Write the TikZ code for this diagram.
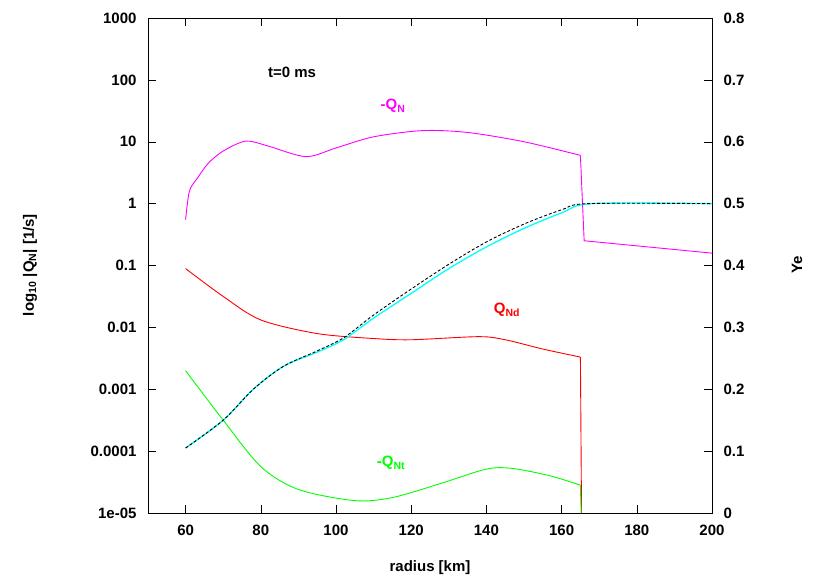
\documentclass[tikz,border=0pt]{standalone}
\usepackage{fontspec}
\setmainfont{Liberation Sans}
\usetikzlibrary{positioning}
\definecolor{qnmag}{RGB}{255,0,255}
\definecolor{qndred}{RGB}{255,0,0}
\definecolor{qntgreen}{RGB}{0,255,0}
\definecolor{yecyan}{RGB}{0,255,255}
\tikzset{
  declare function={RX(\r)=148+(\r-50)*3.76; LY(\l)=513-(\l+5)*61.875; YE(\e)=513-\e*618.75;},
  ticklab/.style={font=\bfseries\fontsize{15}{17}\selectfont},
  curve/.style={line width=0.9pt},
}
\begin{document}
\begin{tikzpicture}[x=1pt,y=-1pt]
    \useasboundingbox (0,0) rectangle (830,581);
    % frame
    \draw[line width=0.8pt] (148,18) rectangle (712,513);
    % x ticks
    \foreach \r in {60,80,...,200} {
      \draw ({RX(\r)},513) -- ++(0,-8);
      \draw ({RX(\r)},18) -- ++(0,8);
      \node[ticklab] at ({RX(\r)},530) {\r};
    }
    % left log ticks
    \foreach \l/\t in {-5/1e-05,-4/0.0001,-3/0.001,-2/0.01,-1/0.1,0/1,1/10,2/100,3/1000} {
      \draw (148,{LY(\l)}) -- ++(8,0);
      \node[ticklab,anchor=east] at (140,{LY(\l)}) {\t};
    }
    % right Ye ticks
    \foreach \e in {0,0.1,0.2,0.3,0.4,0.5,0.6,0.7,0.8} {
      \draw (712,{YE(\e)}) -- ++(-8,0);
      \node[ticklab,anchor=west] at (720,{YE(\e)}) {\e};
    }
    % axis labels
    \node[ticklab] (xlab) at (430,568) {radius [km]};
    \node[ticklab,rotate=90] (ylab) at (30,265) {log\textsubscript{10} |Q\textsubscript{N}| [1/s]};
    \node[ticklab,rotate=90] (y2lab) at (797,265) {Ye};
    \node[ticklab] (time) at (292,72) {t=0 ms};

    % -Q_N
    \draw[curve,qnmag] plot[smooth,tension=0.5] coordinates {
      ({RX(60)},{LY(-0.26)}) ({RX(61)},{LY(0.2)}) ({RX(63)},{LY(0.4)}) ({RX(66)},{LY(0.65)})
      ({RX(70)},{LY(0.85)}) ({RX(76)},{LY(1.01)}) ({RX(82)},{LY(0.93)}) ({RX(92)},{LY(0.76)})
      ({RX(100)},{LY(0.9)}) ({RX(110)},{LY(1.08)}) ({RX(123)},{LY(1.18)}) ({RX(135)},{LY(1.15)})
      ({RX(150)},{LY(1.0)}) ({RX(165)},{LY(0.78)})};
    \draw[curve,qnmag] ({RX(165)},{LY(0.78)}) -- ({RX(166)},{LY(-0.6)}) -- ({RX(200)},{LY(-0.8)});
    \node[ticklab,text=qnmag] (qn) at (393,106) {-Q\textsubscript{N}};

    % Q_Nd
    \draw[curve,qndred] plot[smooth,tension=0.5] coordinates {
      ({RX(60)},{LY(-1.05)}) ({RX(70)},{LY(-1.5)}) ({RX(80)},{LY(-1.88)}) ({RX(95)},{LY(-2.1)})
      ({RX(110)},{LY(-2.18)}) ({RX(120)},{LY(-2.2)}) ({RX(138)},{LY(-2.15)}) ({RX(145)},{LY(-2.2)})
      ({RX(155)},{LY(-2.35)}) ({RX(165)},{LY(-2.48)})};
    \draw[curve,qndred] ({RX(165)},{LY(-2.48)}) -- ({RX(165.3)},513);
    \node[ticklab,text=qndred] (qnd) at (507,310) {Q\textsubscript{Nd}};

    % -Q_Nt
    \draw[curve,qntgreen] plot[smooth,tension=0.5] coordinates {
      ({RX(60)},{LY(-2.7)}) ({RX(70)},{LY(-3.5)}) ({RX(80)},{LY(-4.25)}) ({RX(90)},{LY(-4.62)})
      ({RX(105)},{LY(-4.8)}) ({RX(115)},{LY(-4.75)}) ({RX(128)},{LY(-4.52)}) ({RX(140)},{LY(-4.29)})
      ({RX(147)},{LY(-4.28)}) ({RX(157)},{LY(-4.4)}) ({RX(165)},{LY(-4.55)})};
    \draw[curve,qntgreen] ({RX(165)},{LY(-4.55)}) -- ({RX(165.2)},513);
    \node[ticklab,text=qntgreen] (qnt) at (391,463) {-Q\textsubscript{Nt}};

    % Ye
    \draw[curve,yecyan,line width=1.3pt] plot[smooth,tension=0.5] coordinates {
      ({RX(60)},{YE(0.105)}) ({RX(70)},{YE(0.15)}) ({RX(78)},{YE(0.2)}) ({RX(86)},{YE(0.237)})
      ({RX(95)},{YE(0.26)}) ({RX(102)},{YE(0.28)}) ({RX(110)},{YE(0.315)}) ({RX(120)},{YE(0.355)})
      ({RX(130)},{YE(0.395)}) ({RX(140)},{YE(0.43)}) ({RX(150)},{YE(0.46)}) ({RX(160)},{YE(0.485)})
      ({RX(168)},{YE(0.5)}) ({RX(200)},{YE(0.5)})};
    \draw[curve,black,dash pattern=on 3pt off 2pt] plot[smooth,tension=0.5] coordinates {
      ({RX(60)},{YE(0.105)}) ({RX(70)},{YE(0.15)}) ({RX(78)},{YE(0.2)}) ({RX(86)},{YE(0.237)})
      ({RX(95)},{YE(0.262)}) ({RX(102)},{YE(0.283)}) ({RX(110)},{YE(0.32)}) ({RX(120)},{YE(0.362)})
      ({RX(130)},{YE(0.402)}) ({RX(140)},{YE(0.438)}) ({RX(150)},{YE(0.467)}) ({RX(160)},{YE(0.49)})
      ({RX(167)},{YE(0.5)}) ({RX(200)},{YE(0.5)})};
\end{tikzpicture}
\end{document}
